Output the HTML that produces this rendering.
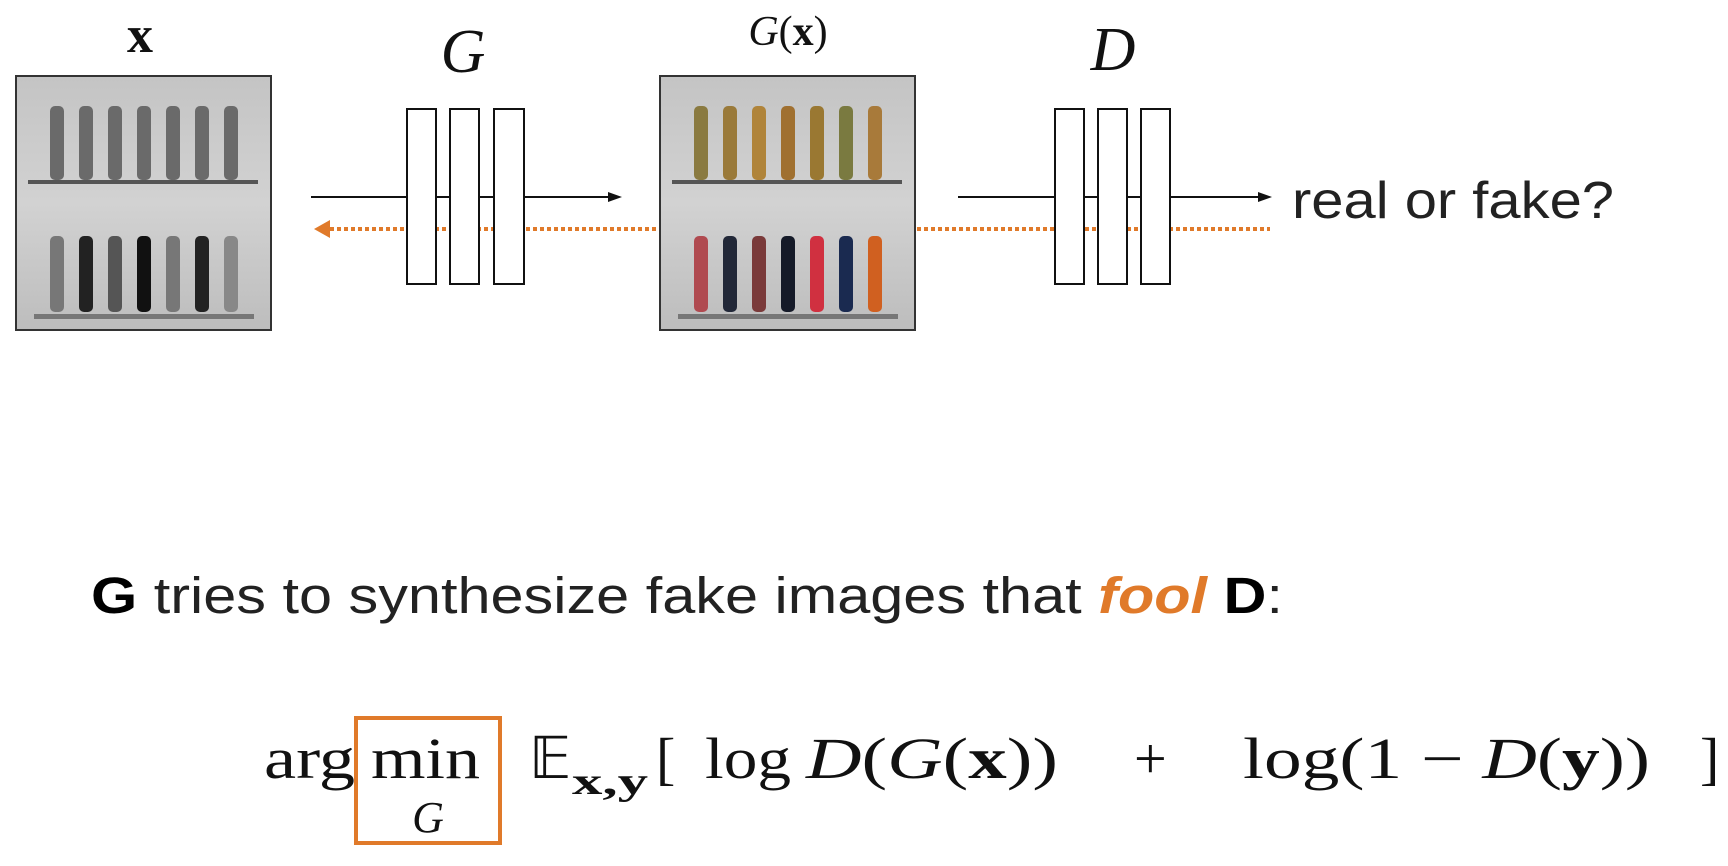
<!DOCTYPE html>
<html><head><meta charset="utf-8"><style>html,body{margin:0;padding:0;background:#fff;}svg{display:block}</style></head>
<body>
<svg width="1728" height="866" viewBox="0 0 1728 866" xmlns="http://www.w3.org/2000/svg">
<defs>
<linearGradient id="bg" x1="0" y1="0" x2="0" y2="1"><stop offset="0" stop-color="#c4c4c4"/><stop offset="0.5" stop-color="#d2d2d2"/><stop offset="1" stop-color="#bdbdbd"/></linearGradient>
<g id="shelf">
  <rect x="0" y="0" width="255" height="254" fill="url(#bg)"/>
  <rect x="0" y="0" width="255" height="254" fill="none" stroke="#333" stroke-width="2"/>
  <rect x="12" y="104" width="230" height="4" fill="#555"/>
  <rect x="18" y="238" width="220" height="5" fill="#777"/>
</g>
</defs>
<g transform="translate(16,76)">
  <use href="#shelf"/>
  <g fill="#6a6a6a">
    <rect x="34" y="30" width="14" height="74" rx="5"/><rect x="63" y="30" width="14" height="74" rx="5"/><rect x="92" y="30" width="14" height="74" rx="5"/><rect x="121" y="30" width="14" height="74" rx="5"/><rect x="150" y="30" width="14" height="74" rx="5"/><rect x="179" y="30" width="14" height="74" rx="5"/><rect x="208" y="30" width="14" height="74" rx="5"/>
  </g>
  <g>
    <rect x="34" y="160" width="14" height="76" rx="5" fill="#777"/><rect x="63" y="160" width="14" height="76" rx="5" fill="#222"/><rect x="92" y="160" width="14" height="76" rx="5" fill="#555"/><rect x="121" y="160" width="14" height="76" rx="5" fill="#111"/><rect x="150" y="160" width="14" height="76" rx="5" fill="#777"/><rect x="179" y="160" width="14" height="76" rx="5" fill="#222"/><rect x="208" y="160" width="14" height="76" rx="5" fill="#888"/>
  </g>
</g>
<g transform="translate(660,76)">
  <use href="#shelf"/>
  <g>
    <rect x="34" y="30" width="14" height="74" rx="5" fill="#8a7a40"/><rect x="63" y="30" width="14" height="74" rx="5" fill="#9a7a3a"/><rect x="92" y="30" width="14" height="74" rx="5" fill="#b0843a"/><rect x="121" y="30" width="14" height="74" rx="5" fill="#a07030"/><rect x="150" y="30" width="14" height="74" rx="5" fill="#9a7832"/><rect x="179" y="30" width="14" height="74" rx="5" fill="#7a7a40"/><rect x="208" y="30" width="14" height="74" rx="5" fill="#a87a3a"/>
    <rect x="34" y="160" width="14" height="76" rx="5" fill="#b04a50"/><rect x="63" y="160" width="14" height="76" rx="5" fill="#222838"/><rect x="92" y="160" width="14" height="76" rx="5" fill="#7a3a3a"/><rect x="121" y="160" width="14" height="76" rx="5" fill="#151a28"/><rect x="150" y="160" width="14" height="76" rx="5" fill="#d03040"/><rect x="179" y="160" width="14" height="76" rx="5" fill="#1a2a50"/><rect x="208" y="160" width="14" height="76" rx="5" fill="#d06020"/>
  </g>
</g>
<line x1="311" y1="197" x2="612" y2="197" stroke="#111" stroke-width="2"/>
<polygon points="622,197 608,192 608,202" fill="#111"/>
<line x1="330" y1="229" x2="659" y2="229" stroke="#e07a2a" stroke-width="4" stroke-dasharray="4,3"/>
<polygon points="314,229 330,220 330,238" fill="#e07a2a"/>
<g fill="#fff" stroke="#111" stroke-width="2">
  <rect x="407" y="109" width="29" height="175"/><rect x="450" y="109" width="29" height="175"/><rect x="494" y="109" width="30" height="175"/>
</g>
<line x1="436" y1="197" x2="450" y2="197" stroke="#111" stroke-width="2"/><line x1="479" y1="197" x2="494" y2="197" stroke="#111" stroke-width="2"/>
<line x1="958" y1="197" x2="1262" y2="197" stroke="#111" stroke-width="2"/>
<polygon points="1272,197 1258,192 1258,202" fill="#111"/>
<line x1="917" y1="229" x2="1270" y2="229" stroke="#e07a2a" stroke-width="4" stroke-dasharray="4,3"/>
<g fill="#fff" stroke="#111" stroke-width="2">
  <rect x="1055" y="109" width="29" height="175"/><rect x="1098" y="109" width="29" height="175"/><rect x="1141" y="109" width="29" height="175"/>
</g>
<line x1="1084" y1="197" x2="1098" y2="197" stroke="#111" stroke-width="2"/><line x1="1127" y1="197" x2="1141" y2="197" stroke="#111" stroke-width="2"/>
<g font-family="Liberation Serif, serif" fill="#111">
  <text x="140" y="52" font-size="52" font-weight="bold" text-anchor="middle">x</text>
  <text x="463" y="72" font-size="62" font-style="italic" text-anchor="middle">G</text>
  <text x="788" y="45" font-size="42" text-anchor="middle"><tspan font-style="italic">G</tspan>(<tspan font-weight="bold">x</tspan>)</text>
  <text x="1113" y="70" font-size="62" font-style="italic" text-anchor="middle">D</text>
</g>
<text x="1292" y="218" font-family="Liberation Sans, sans-serif" font-size="52" fill="#222" textLength="322" lengthAdjust="spacingAndGlyphs">real or fake?</text>
<text x="91" y="613" font-family="Liberation Sans, sans-serif" font-size="51" fill="#222" textLength="1192" lengthAdjust="spacingAndGlyphs"><tspan font-weight="bold" fill="#000">G</tspan> tries to synthesize fake images that <tspan font-weight="bold" font-style="italic" fill="#e07a2a">fool</tspan> <tspan font-weight="bold" fill="#000">D</tspan>:</text>
<rect x="356" y="718" width="144" height="125" fill="none" stroke="#e07a2a" stroke-width="4"/>
<g font-family="Liberation Serif, serif" font-size="58" fill="#111">
  <text x="264" y="778" textLength="91" lengthAdjust="spacingAndGlyphs">arg</text>
  <text x="371" y="778" textLength="109" lengthAdjust="spacingAndGlyphs">min</text>
  <text x="428" y="832" font-size="44" font-style="italic" text-anchor="middle">G</text>
  <text x="529" y="778">𝔼</text>
  <text x="572" y="794" font-size="38" font-weight="bold" textLength="76" lengthAdjust="spacingAndGlyphs">x,y</text>
  <text x="656" y="778">[</text>
  <text x="705" y="778" textLength="86" lengthAdjust="spacingAndGlyphs">log</text>
  <text x="806" y="778" textLength="252" lengthAdjust="spacingAndGlyphs"><tspan font-style="italic">D</tspan>(<tspan font-style="italic">G</tspan>(<tspan font-weight="bold">x</tspan>))</text>
  <text x="1134" y="778">+</text>
  <text x="1243" y="778" textLength="407" lengthAdjust="spacingAndGlyphs">log(1 − <tspan font-style="italic">D</tspan>(<tspan font-weight="bold">y</tspan>))</text>
  <text x="1700" y="778">]</text>
</g>
</svg>
</body></html>
